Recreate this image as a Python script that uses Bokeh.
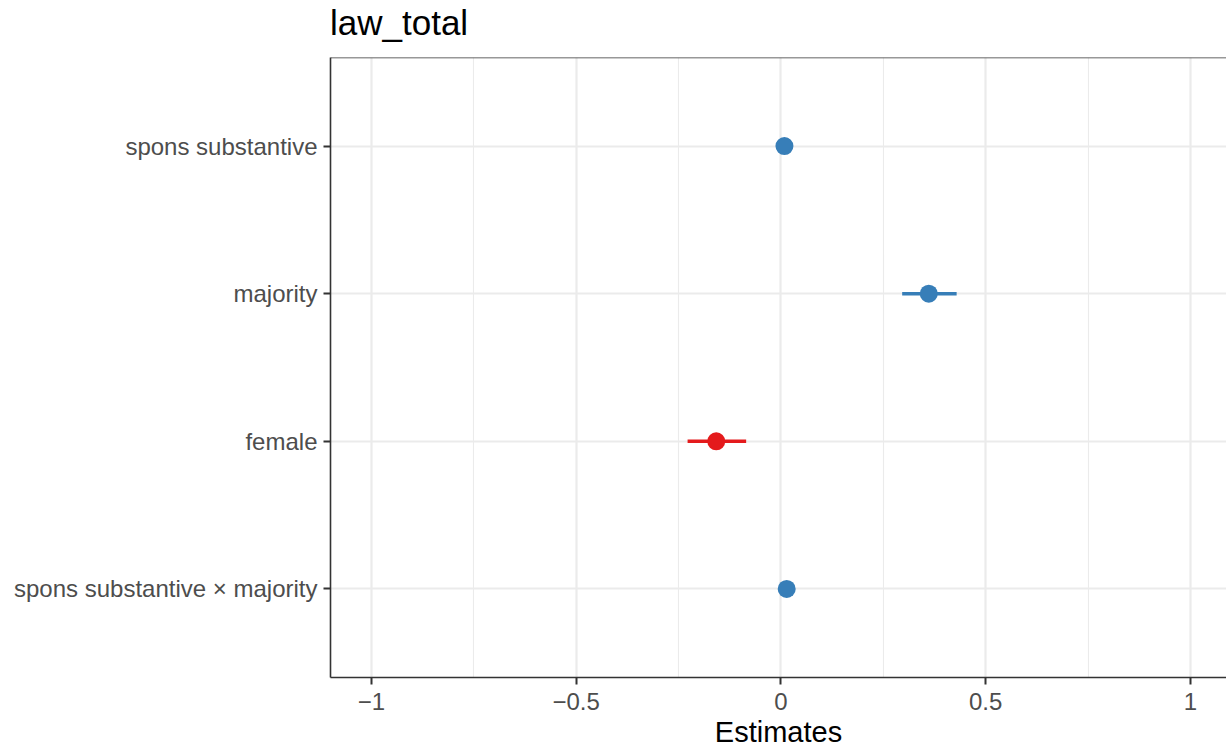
from bokeh.plotting import figure
from bokeh.models import Range1d, FixedTicker, ColumnDataSource, Span, Div
from bokeh.layouts import column
from bokeh.embed import file_html
from bokeh.resources import INLINE

# Data (bottom to top)
terms = ["spons substantive \u00d7 majority", "female", "majority", "spons substantive"]
estimates = [0.014, -0.158, 0.361, 0.0085]
conf_low = [0.006, -0.228, 0.296, 0.002]
conf_high = [0.022, -0.085, 0.429, 0.015]
colors = ["#377EB8", "#E41A1C", "#377EB8", "#377EB8"]
title_text = "law_total"

x_major = [-1, -0.5, 0, 0.5, 1]
x_minor = [-0.75, -0.25, 0.25, 0.75]
x_labels = ["\u22121", "\u22120.5", "0", "0.5", "1"]

ypos = [i + 1 for i in range(len(terms))]
src = ColumnDataSource(dict(y=ypos, est=estimates, lo=conf_low, hi=conf_high, c=colors))

FONT = "Liberation Sans"
Y0, Y1 = 0.4, len(terms) + 0.6

p = figure(
    width=1226, height=696,
    frame_width=896, frame_height=620,
    x_range=Range1d(-1.1, 1.088), y_range=Range1d(Y0, Y1),
    output_backend="svg", toolbar_location=None,
    min_border_left=330, min_border_right=0, min_border_top=2, min_border_bottom=74,
    x_axis_label="Estimates",
)
p.outline_line_color = None
p.background_fill_color = "white"
p.border_fill_color = "white"

# axes
xa = p.xaxis[0]
xa.ticker = FixedTicker(ticks=x_major, minor_ticks=x_minor)
xa.major_label_overrides = {t: l for t, l in zip(x_major, x_labels)}
ya = p.yaxis[0]
ya.ticker = FixedTicker(ticks=ypos)
ya.major_label_overrides = {y: t for y, t in zip(ypos, terms)}

for ax in (xa, ya):
    ax.axis_line_color = "#333333"
    ax.axis_line_width = 1.6
    ax.major_tick_line_color = "#333333"
    ax.major_tick_line_width = 2
    ax.major_tick_out = 7
    ax.major_tick_in = 0
    ax.minor_tick_line_color = None
    ax.major_label_text_font = FONT
    ax.major_label_text_font_size = "24px"
    ax.major_label_text_color = "#4D4D4D"
xa.major_label_standoff = 8
ya.major_label_standoff = 6
xa.axis_label_text_font = FONT
xa.axis_label_text_font_size = "29px"
xa.axis_label_text_font_style = "normal"
xa.axis_label_text_color = "black"
xa.axis_label_standoff = 3

# top border of the panel
p.add_layout(Span(location=Y1, dimension="width", line_color="#333333", line_width=1.6))

# grids
p.xgrid.ticker = FixedTicker(ticks=x_major, minor_ticks=x_minor)
p.xgrid.grid_line_color = "#EBEBEB"
p.xgrid.grid_line_width = 2.2
p.xgrid.minor_grid_line_color = "#EBEBEB"
p.xgrid.minor_grid_line_width = 1.1
p.ygrid.ticker = FixedTicker(ticks=ypos)
p.ygrid.grid_line_color = "#EBEBEB"
p.ygrid.grid_line_width = 2.2

# marks
p.segment(x0="lo", x1="hi", y0="y", y1="y", line_color="c", line_width=3.5, source=src)
p.scatter(x="est", y="y", size=18, fill_color="c", line_color="c", line_width=0, source=src)

title = Div(
    text=('<div style="margin:0; padding:5px 0 0 330px; font-family:\'Liberation Sans\', Arial, sans-serif; '
          'font-size:35px; line-height:35px; color:black; white-space:nowrap;">' + title_text + '</div>'),
    width=1226, height=55, margin=0,
)

layout = column(title, p, spacing=0, margin=0)
open("out.html", "w").write(file_html(layout, INLINE))
